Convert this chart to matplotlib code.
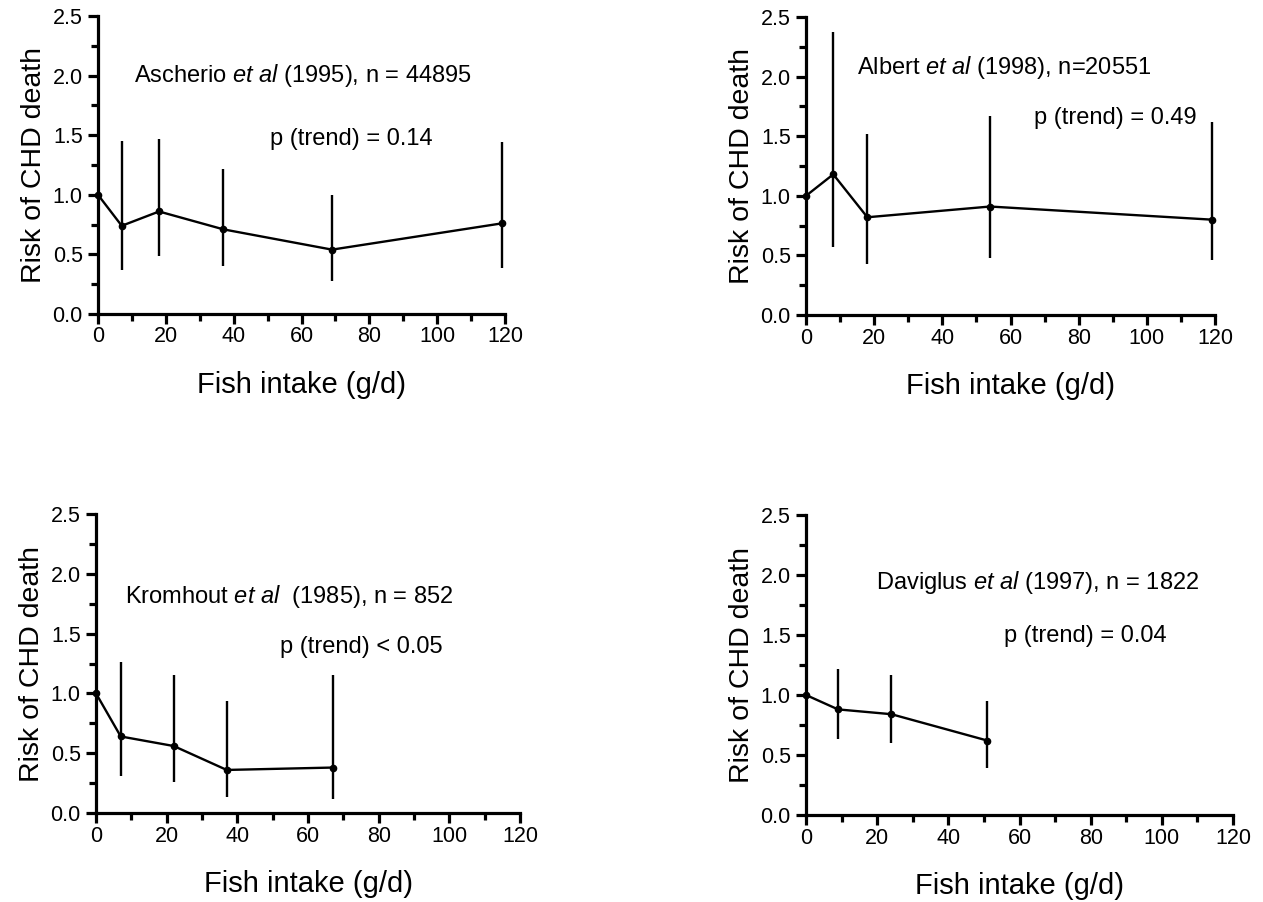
import matplotlib
matplotlib.use("Agg")
import matplotlib.pyplot as plt
from matplotlib.ticker import MultipleLocator

plt.rcParams['font.family'] = ['Liberation Sans', 'DejaVu Sans']
plt.rcParams['mathtext.fontset'] = 'custom'
plt.rcParams['mathtext.rm'] = 'Liberation Sans'
plt.rcParams['mathtext.it'] = 'Liberation Sans:italic'

# ---- data ----
asch_x = [0, 7, 18, 37, 69, 119]
asch_rr = [1.0, 0.74, 0.86, 0.71, 0.54, 0.76]
asch_lo = [1.0, 0.37, 0.49, 0.40, 0.28, 0.39]
asch_hi = [1.0, 1.45, 1.47, 1.22, 1.00, 1.44]

alb_x = [0, 8, 18, 54, 119]
alb_rr = [1.0, 1.18, 0.82, 0.91, 0.80]
alb_lo = [1.0, 0.57, 0.43, 0.48, 0.46]
alb_hi = [1.0, 2.37, 1.52, 1.67, 1.62]

krom_x = [0, 7, 22, 37, 67]
krom_rr = [1.0, 0.64, 0.56, 0.36, 0.38]
krom_lo = [1.0, 0.31, 0.26, 0.13, 0.12]
krom_hi = [1.0, 1.26, 1.15, 0.94, 1.15]

dav_x = [0, 9, 24, 51]
dav_rr = [1.0, 0.88, 0.84, 0.62]
dav_lo = [1.0, 0.63, 0.60, 0.39]
dav_hi = [1.0, 1.22, 1.17, 0.95]

titles = [r"Ascherio $\it{et\ al}$ (1995), n = 44895",
          r"Albert $\it{et\ al}$ (1998), n=20551",
          r"Kromhout $\it{et\ al}$  (1985), n = 852",
          r"Daviglus $\it{et\ al}$ (1997), n = 1822"]
ptexts = ["p (trend) = 0.14", "p (trend) = 0.49",
          "p (trend) < 0.05", "p (trend) = 0.04"]
title_pos = [(60.4, 2.0), (58.1, 2.08), (54.6, 1.81), (65.2, 1.94)]
p_pos = [(74.6, 1.47), (90.7, 1.65), (75.0, 1.39), (78.4, 1.49)]

xlabel = "Fish intake (g/d)"
ylabel = "Risk of CHD death"

# axes boxes in pixels: left, right, top, bottom
W, H = 1263, 902
boxes = [(98, 505, 16, 314), (806, 1215, 17, 315),
         (96, 520, 514, 813), (806, 1233, 515, 815)]

datasets = [(asch_x, asch_rr, asch_lo, asch_hi),
            (alb_x, alb_rr, alb_lo, alb_hi),
            (krom_x, krom_rr, krom_lo, krom_hi),
            (dav_x, dav_rr, dav_lo, dav_hi)]

fig = plt.figure(figsize=(W / 100, H / 100), dpi=100)

for i, (box, data) in enumerate(zip(boxes, datasets)):
    l, r, t, b = box
    ax = fig.add_axes([l / W, 1 - b / H, (r - l) / W, (b - t) / H])
    x, rr, lo, hi = data
    yerr = [[v - a for v, a in zip(rr, lo)], [a - v for v, a in zip(rr, hi)]]
    ax.errorbar(x, rr, yerr=yerr, fmt='-o', color='black', lw=1.7,
                elinewidth=1.7, capsize=0, markersize=4.5, clip_on=False)
    ax.set_xlim(0, 120)
    ax.set_ylim(0, 2.5)
    ax.xaxis.set_major_locator(MultipleLocator(20))
    ax.xaxis.set_minor_locator(MultipleLocator(10))
    ax.yaxis.set_major_locator(MultipleLocator(0.5))
    ax.yaxis.set_minor_locator(MultipleLocator(0.25))
    ax.yaxis.set_major_formatter(matplotlib.ticker.FormatStrFormatter('%.1f'))
    for s in ['top', 'right']:
        ax.spines[s].set_visible(False)
    for s in ['left', 'bottom']:
        ax.spines[s].set_linewidth(2.3)
    ax.tick_params(which='major', direction='out', length=7, width=2.3,
                   labelsize=15.5, pad=2)
    ax.tick_params(axis='y', which='major', pad=4)
    ax.tick_params(which='minor', direction='out', length=5, width=2.3)
    ax.set_xlabel(xlabel, fontsize=21, labelpad=17)
    ax.set_ylabel(ylabel, fontsize=20.5, labelpad=4)
    ax.text(title_pos[i][0], title_pos[i][1], titles[i], fontsize=17,
            va='center', ha='center')
    ax.text(p_pos[i][0], p_pos[i][1], ptexts[i], fontsize=17,
            va='center', ha='center')

fig.savefig("out.png", dpi=100, facecolor='white')
